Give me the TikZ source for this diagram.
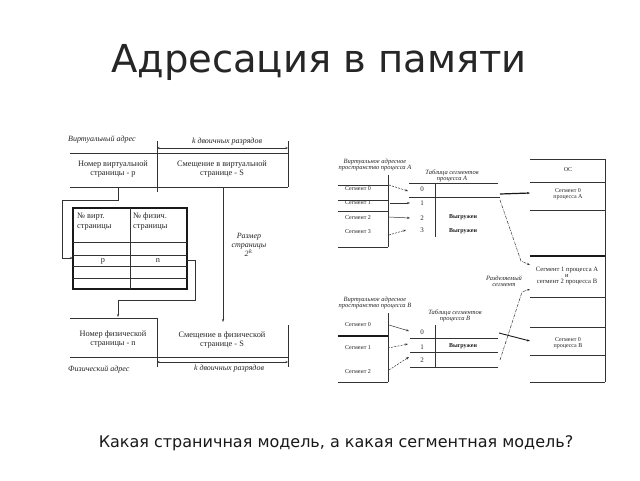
\documentclass[tikz,border=0pt]{standalone}
\usepackage{fontspec}
\setmainfont{Liberation Serif}
\newfontfamily\sansf{DejaVu Sans}
\usetikzlibrary{arrows.meta}
\begin{document}
\begin{tikzpicture}[x=1pt,y=-1pt,
  ln/.style={draw=black!80, line width=0.5pt},
  thk/.style={draw=black!90, line width=1.3pt},
  tx/.style={font=\fontsize{8.3}{9.5}\selectfont, text=black!85, align=center, inner sep=0pt},
  itx/.style={font=\fontsize{8}{8.5}\selectfont\itshape, text=black!85, inner sep=0pt, align=center},
  stx/.style={font=\fontsize{6}{6.5}\selectfont, text=black!85, inner sep=0pt, align=center},
  rtx/.style={font=\fontsize{7}{7}\selectfont, text=black!85, inner sep=0pt},
  sitx/.style={font=\fontsize{6.5}{6.5}\selectfont\itshape, text=black!85, inner sep=0pt, align=center},
  btx/.style={font=\fontsize{6}{7}\selectfont\bfseries, text=black!90, inner sep=0pt},
  arr/.style={ln, -{Stealth[length=3pt,width=2.2pt]}},
  darr/.style={arr, dash pattern=on 2pt off 1.2pt},
  ddarr/.style={arr, dash pattern=on 3pt off 1pt on 0.6pt off 1pt},
  dim/.style={ln, {Stealth[length=2.5pt,width=2pt]}-{Stealth[length=2.5pt,width=2pt]}},
]
\fill[white] (0,0) rectangle (640,480);
\useasboundingbox (0,0) rectangle (640,480);

% titles
\node[font=\sansf\fontsize{38.5}{42}\selectfont, text=black!85] (title) at (319,62) {Адресация в памяти};
\node[font=\sansf\fontsize{16}{18}\selectfont, text=black!90] (q) at (336,443) {Какая страничная модель, а какая сегментная модель?};

% ---------------- left diagram ----------------
\node[itx, anchor=west] (va) at (68,140) {Виртуальный адрес};
\node[itx] (kt) at (227,142) {k двоичных разрядов};
\draw[ln] (157,141) -- (157,192);
\draw[ln] (288,141) -- (288,187);
\coordinate (dt1) at (157,148); \coordinate (dt2) at (288,148);
\draw[dim] (dt1) -- (dt2);
\draw[ln] (70,153) -- (288,153);
\draw[ln] (70,187) -- (288,187);
\node[tx] (vp) at (113,169) {Номер виртуальной\\страницы - p};
\node[tx] (vs) at (222,169) {Смещение в виртуальной\\странице - S};

% page table
\draw[thk] (73,208) rectangle (187,289);
\draw[ln, line width=0.8pt] (130,208) -- (130,289);
\foreach \yy in {242,255,266,278} \draw[ln, line width=0.8pt] (73,\yy) -- (187,\yy);
\node[tx, anchor=north west, align=left] (h1) at (77,213) {№ вирт.\\страницы};
\node[tx, anchor=north west, align=left] (h2) at (133,213) {№ физич.\\страницы};
\node[tx] (cp) at (103,261) {p};
\node[tx] (cn) at (158,261) {n};

\coordinate (a1) at (118,187); \coordinate (a2) at (73,258);
\draw[arr] (a1) |- (62,200) |- (a2);
\coordinate (b1) at (187,260); \coordinate (b2) at (118,317);
\draw[arr] (b1) -| (195,300) -| (b2);
\coordinate (c1) at (223,187); \coordinate (c2) at (223,322);
\draw[arr] (c1) -- (c2);
\node[itx] (psz) at (249,245) {Размер\\страницы\\2$^k$};

% physical address
\draw[ln] (70,318) -- (157,318);
\draw[ln] (157,318) -- (157,367);
\draw[ln] (288,325) -- (288,367);
\draw[ln] (70,357) -- (288,357);
\node[tx] (pn) at (113,339) {Номер физической\\страницы - n};
\node[tx] (pso) at (222,340) {Смещение в физической\\странице - S};
\coordinate (db1) at (157,362); \coordinate (db2) at (288,362);
\draw[dim] (db1) -- (db2);
\node[itx, anchor=west] (pa) at (68,369) {Физический адрес};
\node[itx] (kb) at (229,369) {k двоичных разрядов};

% ---------------- right diagram ----------------
% process A
\node[sitx] (vaA) at (375,165) {Виртуальное адресное\\пространство процесса А};
\draw[ln] (388,175) -- (388,247);
\foreach \yy in {185,200,211,247} \draw[ln] (338,\yy) -- (388,\yy);
\node[stx] (sA0) at (358,189) {Сегмент 0};
\node[stx] (sA1) at (358,203) {Сегмент 1};
\node[stx] (sA2) at (358,218) {Сегмент 2};
\node[stx] (sA3) at (358,232) {Сегмент 3};

\node[sitx] (tA) at (452,176) {Таблица сегментов\\процесса А};
\draw[ln] (409,183) -- (498,183);
\draw[ln] (409,197) -- (500,197);
\draw[ln] (435,183) -- (435,237);
\node[rtx] (rA0) at (422,189) {0};
\node[rtx] (rA1) at (422,203) {1};
\node[rtx] (rA2) at (422,218) {2};
\node[rtx] (rA3) at (422,230) {3};
\node[btx] (wA2) at (463,217) {Выгружен};
\node[btx] (wA3) at (463,231) {Выгружен};

\coordinate (pA0) at (389,185); \coordinate (qA0) at (408,191);
\coordinate (pA1) at (390,203); \coordinate (qA1) at (410,203);
\coordinate (pA2) at (389,217); \coordinate (qA2) at (410,218);
\coordinate (pA3) at (389,235); \coordinate (qA3) at (406,230);
\draw[darr] (pA0) -- (qA0);
\draw[arr] (pA1) -- (qA1);
\draw[arr] (pA2) -- (qA2);
\draw[darr] (pA3) -- (qA3);

% physical memory
\foreach \yy in {159,182,210,297,327,355,382} \draw[ln] (530,\yy) -- (605,\yy);
\draw[thk] (530,256) -- (605,256);
\draw[ln] (605,159) -- (605,382);
\node[stx] (os) at (568,170) {ОС};
\node[stx] (m0) at (568,194) {Сегмент 0\\процесса А};
\node[stx, font=\fontsize{6.6}{6}\selectfont] (msh) at (567,276) {Сегмент 1 процесса А\\и\\сегмент 2 процесса В};
\node[stx] (mB0) at (568,343) {Сегмент 0\\процесса В};
\node[sitx] (shl) at (504,281) {Разделяемый\\сегмент};

\coordinate (tA0) at (500,194); \coordinate (mA0) at (530,193);
\draw[arr, line width=1.2pt, draw=black!90] (tA0) -- (mA0);
\coordinate (tA1) at (500,200); \coordinate (mS1) at (530,265);
\draw[ddarr] (tA1) -- (521,261) -- (mS1);

% process B
\node[sitx] (vaB) at (375,303) {Виртуальное адресное\\пространство процесса В};
\draw[ln] (388,313) -- (388,382);
\draw[thk] (338,336) -- (388,336);
\draw[ln] (338,382) -- (388,382);
\node[stx] (sB0) at (358,325) {Сегмент 0};
\node[stx] (sB1) at (358,348) {Сегмент 1};
\node[stx] (sB2) at (358,372) {Сегмент 2};

\node[sitx] (tB) at (455,316) {Таблица сегментов\\процесса В};
\foreach \yy in {338,352,367} \draw[ln] (410,\yy) -- (498,\yy);
\draw[ln] (435,325) -- (435,367);
\node[rtx] (rB0) at (422,332) {0};
\node[rtx] (rB1) at (422,347) {1};
\node[rtx] (rB2) at (422,360) {2};
\node[btx] (wB1) at (463,346) {Выгружен};

\coordinate (pB0) at (389,325); \coordinate (qB0) at (409,331);
\coordinate (pB1) at (388,348); \coordinate (qB1) at (408,344);
\coordinate (pB2) at (389,370); \coordinate (qB2) at (409,357);
\draw[arr] (pB0) -- (qB0);
\draw[darr] (pB1) -- (qB1);
\draw[darr] (pB2) -- (qB2);

\coordinate (tB0) at (499,333); \coordinate (mB0p) at (530,341);
\draw[arr, line width=0.9pt, draw=black!90] (tB0) -- (mB0p);
\coordinate (tB2) at (500,360); \coordinate (mS2) at (530,289);
\draw[ddarr] (tB2) -- (522,292) -- (mS2);
\end{tikzpicture}
\end{document}
